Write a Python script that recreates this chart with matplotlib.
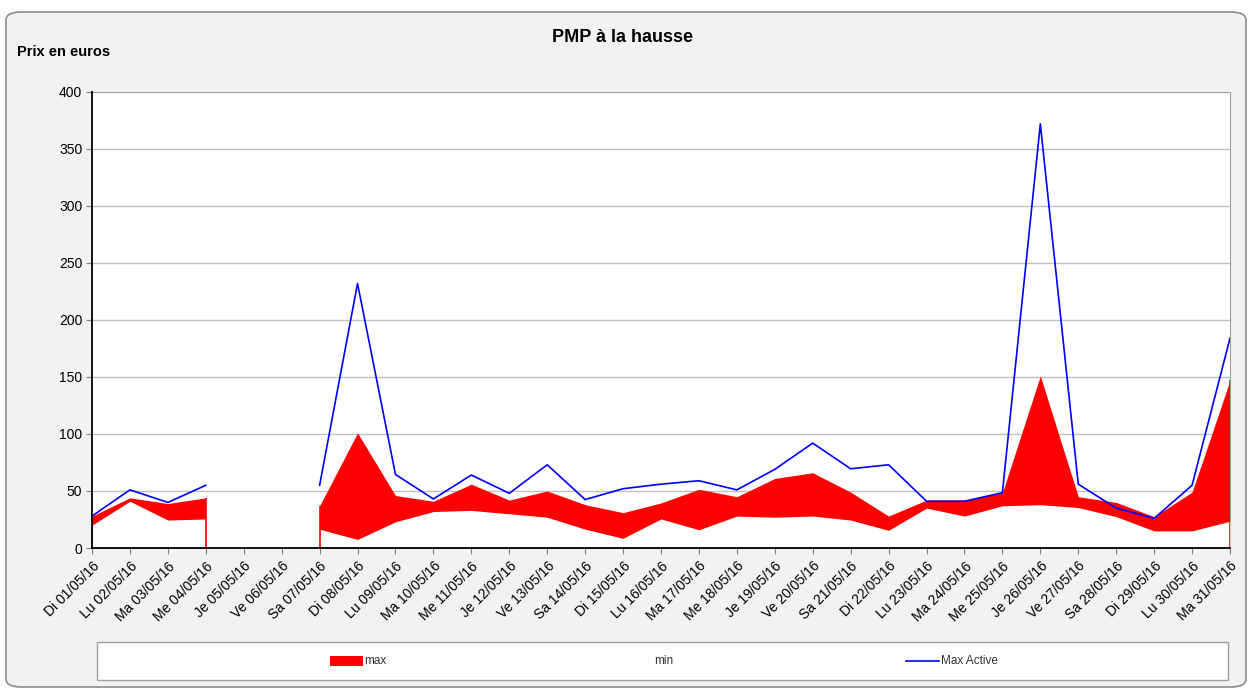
import numpy as np
import matplotlib
matplotlib.use('Agg')
import matplotlib.pyplot as plt
from matplotlib.patches import FancyBboxPatch, Rectangle
from matplotlib.lines import Line2D

plt.rcParams['font.family'] = ['Liberation Sans', 'DejaVu Sans']

# données
jours = ['Di 01/05/16', 'Lu 02/05/16', 'Ma 03/05/16', 'Me 04/05/16', 'Je 05/05/16',
         'Ve 06/05/16', 'Sa 07/05/16', 'Di 08/05/16', 'Lu 09/05/16', 'Ma 10/05/16',
         'Me 11/05/16', 'Je 12/05/16', 'Ve 13/05/16', 'Sa 14/05/16', 'Di 15/05/16',
         'Lu 16/05/16', 'Ma 17/05/16', 'Me 18/05/16', 'Je 19/05/16', 'Ve 20/05/16',
         'Sa 21/05/16', 'Di 22/05/16', 'Lu 23/05/16', 'Ma 24/05/16', 'Me 25/05/16',
         'Je 26/05/16', 'Ve 27/05/16', 'Sa 28/05/16', 'Di 29/05/16', 'Lu 30/05/16',
         'Ma 31/05/16']
nan = np.nan
val_max = [28, 44, 39, 44, nan, nan, 37, 101, 46, 41, 56, 42, 50, 38, 31, 39.5,
           51.5, 45, 61, 66, 49, 28, 42, 42, 48.5, 151, 45, 40, 27.5, 49, 147]
val_min = [20, 41, 24.5, 25.5, nan, nan, 16.5, 7.5, 23, 32, 33, 30, 27, 16.5, 8.5, 25.5,
           16, 28, 27, 28, 24.5, 15.5, 35, 28, 37, 38, 35.5, 27.5, 15, 15, 23.5]
max_active = [28, 51, 40, 55, nan, nan, 55, 232, 64.5, 43, 64, 48, 73, 42.5, 52, 56,
              59, 51, 69, 92, 69.5, 73, 41, 41, 48.5, 372, 56, 35, 26, 55, 184]

ROUGE = '#ff0000'
BLEU = '#0000ff'


def segments(valeurs):
    # plages continues sans valeur manquante
    ok = ~np.isnan(np.asarray(valeurs, dtype=float))
    plages, debut = [], None
    for i, v in enumerate(ok):
        if v and debut is None:
            debut = i
        if not v and debut is not None:
            plages.append((debut, i))
            debut = None
    if debut is not None:
        plages.append((debut, len(ok)))
    return plages


fig = plt.figure(figsize=(12.51, 6.89), dpi=100)
fig.patch.set_facecolor('white')

# cadre arrondi du graphique
cadre = FancyBboxPatch((6 / 1251, 2 / 689), 1240 / 1251, 675 / 689,
                       boxstyle="round,pad=0,rounding_size=0.012",
                       transform=fig.transFigure, facecolor='#f2f2f2',
                       edgecolor='#8c8c8c', lw=1.2, zorder=-10)
fig.patches.append(cadre)

ax = fig.add_axes([92 / 1251, 1 - 548 / 689, 1138 / 1251, 456 / 689])
ax.set_facecolor('white')

x = np.arange(len(jours))
vmax = np.asarray(val_max, dtype=float)
vmin = np.asarray(val_min, dtype=float)

for a, b in segments(val_max):
    xs = x[a:b]
    ax.fill_between(xs, 0, vmax[a:b], color=ROUGE, lw=0, zorder=2)
    ax.fill_between(xs, 0, vmin[a:b], color='white', lw=0, zorder=3)
    # chute verticale a zero aux bords des plages
    ax.vlines([xs[0], xs[-1]], 0, [vmax[a], vmax[b - 1]], color=ROUGE, lw=1.2, zorder=4)

ax.plot(x, max_active, color=BLEU, lw=1.2, zorder=5)

ax.set_xlim(0, len(jours) - 1)
ax.set_ylim(0, 400)
ax.set_yticks(np.arange(0, 401, 50))
ax.set_xticks(x)
ax.set_xticklabels(jours, rotation=45, ha='right', rotation_mode='anchor', fontsize=10)
ax.tick_params(axis='y', labelsize=10, length=4, color='#808080', pad=3)
ax.tick_params(axis='x', length=4, color='#808080', pad=4)
for g in np.arange(50, 400, 50):
    ax.axhline(g, color='#c0c0c0', lw=1, zorder=1)

for s in ['left', 'bottom']:
    ax.spines[s].set_color('black')
    ax.spines[s].set_linewidth(1.3)
    ax.spines[s].set_zorder(6)
for s in ['top', 'right']:
    ax.spines[s].set_color('#a0a0a0')
    ax.spines[s].set_linewidth(0.8)

fig.text(623 / 1251, 1 - 37 / 689, 'PMP à la hausse', ha='center', va='center',
         fontsize=13, fontweight='bold')
fig.text(17 / 1251, 1 - 52 / 689, 'Prix en euros', ha='left', va='center',
         fontsize=10.5, fontweight='bold')

# légende
leg = Rectangle((97 / 1251, 1 - 680 / 689), 1131 / 1251, 38 / 689,
                transform=fig.transFigure, facecolor='white', edgecolor='#a0a0a0', lw=1)
fig.patches.append(leg)
yl = 1 - 661 / 689
fig.patches.append(Rectangle((330 / 1251, yl - 5 / 689), 33 / 1251, 10 / 689,
                             transform=fig.transFigure, facecolor=ROUGE, lw=0))
fig.text(364 / 1251, yl, 'max', ha='left', va='center', fontsize=8.5, color='#333333')
fig.text(654 / 1251, yl, 'min', ha='left', va='center', fontsize=8.5, color='#333333')
fig.lines.append(Line2D([906 / 1251, 939 / 1251], [yl, yl], transform=fig.transFigure,
                        color=BLEU, lw=1.2))
fig.text(941 / 1251, yl, 'Max Active', ha='left', va='center', fontsize=8.5, color='#333333')

fig.savefig('out.png', dpi=100)
